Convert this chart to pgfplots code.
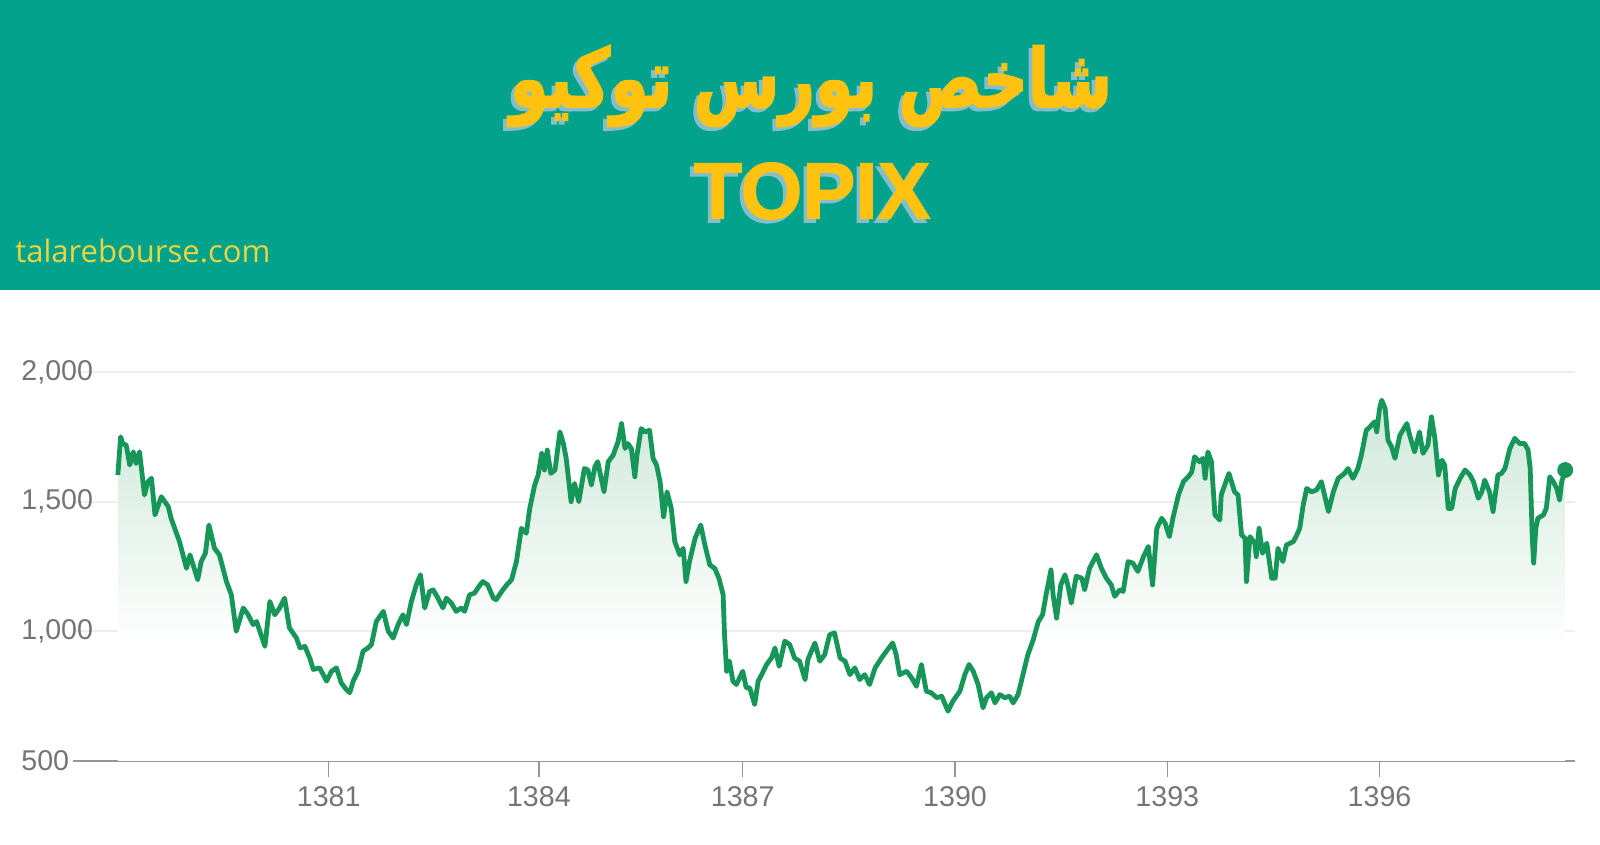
\documentclass[border=0pt]{standalone}
\usepackage{fontspec}
\setmainfont{Liberation Sans}
\newfontfamily\titlefont[Script=Arabic, FakeBold=2.5]{DejaVu Sans}
\newfontfamily\topixfont[FakeBold=1.5]{Liberation Sans}
\newfontfamily\opensans{Open Sans}
\usepackage{pgfplots}
\usepackage{pgfplotstable}
\pgfplotsset{compat=1.18}
\TeXXeTstate=1
\definecolor{teal0}{RGB}{2,162,140}
\definecolor{titley}{RGB}{255,194,14}
\definecolor{shadowc}{RGB}{130,190,205}
\definecolor{urlc}{RGB}{235,213,62}
\definecolor{linecol}{RGB}{22,150,88}
\definecolor{fillg}{RGB}{206,232,217}
\definecolor{axisgray}{RGB}{150,150,150}
\definecolor{gridgray}{RGB}{238,238,238}
\definecolor{labelgray}{RGB}{117,117,117}
\pgfdeclareverticalshading{areafade}{100bp}{color(0bp)=(white); color(41bp)=(white); color(75bp)=(fillg); color(100bp)=(fillg)}

\pgfplotstableread{
year value
1377.99 1603
1378.03 1750
1378.06 1724
1378.11 1718
1378.16 1641
1378.21 1692
1378.25 1647
1378.30 1692
1378.37 1526
1378.42 1577
1378.47 1590
1378.52 1449
1378.61 1519
1378.71 1481
1378.75 1436
1378.87 1346
1378.97 1243
1379.02 1295
1379.13 1199
1379.18 1269
1379.24 1301
1379.29 1410
1379.37 1320
1379.44 1295
1379.54 1192
1379.61 1141
1379.68 1000
1379.78 1090
1379.85 1064
1379.92 1026
1379.97 1038
1380.09 942
1380.16 1115
1380.23 1064
1380.30 1090
1380.37 1128
1380.44 1013
1380.54 974
1380.59 936
1380.66 942
1380.73 897
1380.78 853
1380.87 859
1380.97 808
1381.04 846
1381.11 859
1381.18 801
1381.25 776
1381.30 763
1381.35 808
1381.42 846
1381.49 923
1381.56 936
1381.61 949
1381.68 1038
1381.78 1077
1381.85 1000
1381.92 974
1381.99 1026
1382.06 1064
1382.11 1026
1382.18 1115
1382.25 1179
1382.31 1218
1382.37 1090
1382.44 1154
1382.49 1160
1382.56 1128
1382.63 1090
1382.68 1128
1382.75 1109
1382.82 1077
1382.89 1090
1382.94 1077
1383.01 1141
1383.08 1147
1383.16 1179
1383.20 1192
1383.27 1179
1383.35 1128
1383.39 1122
1383.47 1154
1383.54 1179
1383.61 1199
1383.68 1269
1383.75 1397
1383.82 1378
1383.87 1474
1383.94 1564
1383.99 1603
1384.04 1686
1384.08 1622
1384.12 1699
1384.17 1609
1384.23 1622
1384.30 1769
1384.35 1724
1384.39 1667
1384.46 1500
1384.51 1570
1384.57 1500
1384.65 1628
1384.70 1622
1384.75 1564
1384.80 1635
1384.84 1654
1384.89 1590
1384.93 1538
1384.99 1654
1385.06 1679
1385.13 1731
1385.18 1801
1385.23 1705
1385.27 1724
1385.32 1705
1385.37 1596
1385.40 1679
1385.46 1782
1385.51 1769
1385.58 1775
1385.63 1667
1385.68 1641
1385.73 1577
1385.78 1442
1385.83 1538
1385.89 1474
1385.94 1346
1386.01 1295
1386.06 1320
1386.10 1192
1386.15 1269
1386.23 1359
1386.31 1410
1386.37 1333
1386.44 1256
1386.51 1243
1386.57 1205
1386.63 1141
1386.65 987
1386.68 846
1386.72 885
1386.77 808
1386.82 795
1386.91 846
1386.96 782
1387.01 782
1387.08 718
1387.13 808
1387.18 833
1387.25 872
1387.32 897
1387.37 936
1387.43 865
1387.51 962
1387.58 949
1387.65 897
1387.72 885
1387.80 814
1387.84 891
1387.94 955
1388.01 885
1388.08 910
1388.15 987
1388.22 994
1388.30 897
1388.37 885
1388.44 833
1388.51 859
1388.58 814
1388.65 833
1388.72 795
1388.80 859
1388.89 897
1388.96 923
1389.05 955
1389.10 910
1389.15 833
1389.25 846
1389.32 821
1389.39 788
1389.46 872
1389.53 769
1389.60 763
1389.68 744
1389.75 750
1389.84 692
1389.91 731
1390.01 769
1390.08 833
1390.14 872
1390.20 846
1390.27 795
1390.34 705
1390.39 744
1390.46 763
1390.51 724
1390.58 756
1390.65 744
1390.72 750
1390.77 724
1390.84 756
1390.91 833
1390.98 910
1391.05 962
1391.13 1038
1391.19 1064
1391.24 1141
1391.31 1237
1391.34 1141
1391.39 1051
1391.45 1179
1391.51 1218
1391.55 1179
1391.60 1109
1391.67 1212
1391.75 1205
1391.79 1160
1391.86 1243
1391.96 1295
1392.03 1243
1392.10 1205
1392.17 1179
1392.22 1135
1392.29 1160
1392.34 1154
1392.41 1269
1392.48 1263
1392.55 1231
1392.63 1288
1392.70 1327
1392.76 1179
1392.82 1397
1392.89 1436
1392.94 1417
1393.00 1365
1393.05 1436
1393.13 1526
1393.20 1577
1393.27 1596
1393.32 1615
1393.36 1673
1393.43 1654
1393.48 1667
1393.51 1590
1393.55 1692
1393.60 1654
1393.65 1449
1393.72 1429
1393.74 1526
1393.85 1609
1393.93 1538
1393.98 1526
1394.03 1372
1394.08 1359
1394.10 1192
1394.15 1365
1394.22 1340
1394.24 1288
1394.28 1397
1394.33 1301
1394.39 1340
1394.46 1205
1394.51 1205
1394.55 1320
1394.62 1269
1394.67 1333
1394.77 1346
1394.82 1372
1394.86 1397
1394.91 1487
1394.96 1551
1395.03 1538
1395.10 1545
1395.17 1577
1395.27 1462
1395.34 1538
1395.41 1590
1395.50 1609
1395.55 1628
1395.62 1590
1395.69 1628
1395.74 1679
1395.81 1775
1395.86 1788
1395.93 1808
1395.96 1769
1396.00 1859
1396.03 1891
1396.08 1859
1396.12 1737
1396.17 1712
1396.22 1667
1396.29 1756
1396.39 1801
1396.43 1756
1396.50 1692
1396.57 1769
1396.62 1686
1396.69 1718
1396.74 1827
1396.79 1744
1396.84 1603
1396.89 1660
1396.93 1641
1396.98 1474
1397.03 1474
1397.08 1551
1397.15 1590
1397.22 1622
1397.29 1603
1397.34 1577
1397.41 1513
1397.46 1538
1397.50 1583
1397.57 1538
1397.62 1462
1397.69 1603
1397.74 1609
1397.79 1628
1397.86 1705
1397.93 1744
1398.00 1724
1398.07 1724
1398.12 1699
1398.15 1628
1398.18 1359
1398.20 1263
1398.23 1397
1398.26 1436
1398.34 1449
1398.38 1474
1398.43 1596
1398.48 1577
1398.53 1551
1398.57 1506
1398.60 1577
1398.65 1622
}\topix

\begin{document}
\begin{tikzpicture}[x=1pt,y=1pt]
\path[use as bounding box] (0,0) rectangle (800,422.5);
\fill[white] (0,0) rectangle (800,422.5);
\fill[teal0] (0,277.5) rectangle (800,422.5);
% title
\node[inner sep=0pt, text=shadowc] at (403.7,377.7) {\scalebox{1}[1.3]{\resizebox{301pt}{!}{\titlefont\bfseries\beginR شاخص بورس توکیو\endR}}};
\node[inner sep=0pt, text=titley] at (405.5,379.5) {\scalebox{1}[1.3]{\resizebox{301pt}{!}{\titlefont\bfseries\beginR شاخص بورس توکیو\endR}}};
\node[inner sep=0pt, text=shadowc] at (404.2,325.2) {\resizebox{118.5pt}{28pt}{\topixfont\bfseries TOPIX}};
\node[inner sep=0pt, text=titley] at (406,327) {\resizebox{118.5pt}{28pt}{\topixfont\bfseries TOPIX}};
\node[inner sep=0pt, anchor=base west, text=urlc] at (7.5,291) {\resizebox{127.5pt}{!}{\opensans talarebourse.com}};
\begin{axis}[
  at={(36.5pt,42pt)}, anchor=south west,
  scale only axis, width=751pt, height=194.5pt,
  xmin=1377.35, xmax=1398.79, ymin=500, ymax=2000,
  axis x line*=bottom, axis y line*=left,
  y axis line style={draw=none},
  x axis line style={draw=axisgray, line width=1.2pt},
  xtick={1381,1384,1386.91,1389.94,1392.97,1396},
  xticklabels={1381,1384,1387,1390,1393,1396},
  ytick={500,1000,1500,2000},
  yticklabels={500,{1,000},{1,500},{2,000}},
  tick align=outside,
  major tick length=8pt,
  xtick style={draw=axisgray, line width=0.7pt},
  ytick style={draw=none},
  ymajorgrids, grid style={draw=gridgray, line width=1pt},
  /pgf/number format/assume math mode=true,
  ticklabel style={font=\fontsize{14.3}{17}\selectfont, text=labelgray, inner sep=0pt},
  xticklabel style={anchor=north, yshift=-4.5pt},
  yticklabel style={anchor=west, xshift=-18pt},
  clip=false,
]
\addplot[draw=none, shading=areafade] table[x=year,y=value]{\topix} \closedcycle;
\addplot[linecol, line width=2.4pt, line join=round] table[x=year,y=value]{\topix};
\addplot[only marks, mark=*, mark size=3.75pt, linecol] coordinates {(1398.65,1622)};
\end{axis}
\end{tikzpicture}
\end{document}
